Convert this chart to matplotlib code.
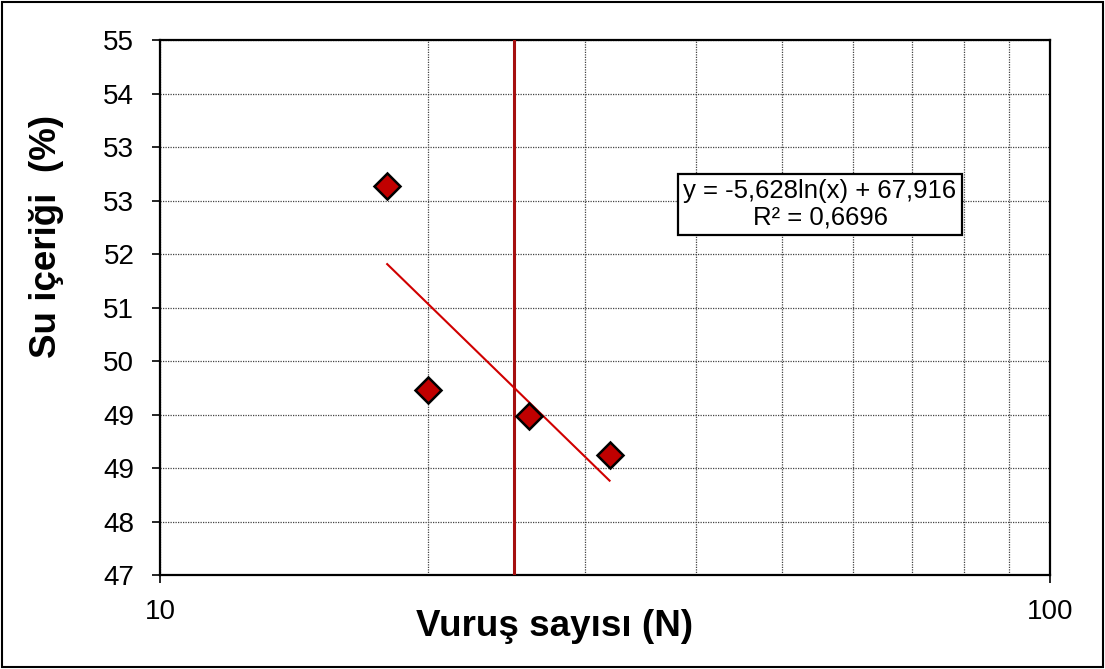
import matplotlib.pyplot as plt
import matplotlib.ticker as ticker
from matplotlib.patches import Rectangle
import numpy as np

plt.rcParams['font.family'] = ['Liberation Sans', 'DejaVu Sans']

# blow counts and water contents
blows = [18, 20, 26, 32]
water = [52.81, 49.77, 49.38, 48.79]

# trendline y = a*ln(x) + b as printed on the chart
coef_a = -5.628
coef_b = 67.916
r2_text = '0,6696'
limit_blows = 25

y_ticks = np.linspace(47, 55, 11)


def setup_axes(ax):
    ax.set_xscale('log')
    ax.set_xlim(10, 100)
    ax.set_ylim(47, 55)
    ax.set_yticks(y_ticks)
    ax.yaxis.set_major_formatter(ticker.FuncFormatter(lambda v, p: '%.0f' % v))
    ax.xaxis.set_major_locator(ticker.FixedLocator([10, 100]))
    ax.xaxis.set_major_formatter(ticker.FuncFormatter(lambda v, p: '%d' % v))
    ax.xaxis.set_minor_locator(ticker.LogLocator(base=10, subs=np.arange(2, 10)))
    ax.xaxis.set_minor_formatter(ticker.NullFormatter())
    ax.tick_params(axis='both', which='major', labelsize=20, direction='out', length=5.5, width=1.2)
    ax.tick_params(axis='y', which='major', pad=13)
    ax.tick_params(axis='x', which='major', pad=12)
    ax.tick_params(axis='x', which='minor', length=0)
    ax.tick_params(top=False, right=False)
    ax.grid(True, which='major', color='#444444', linestyle=(0, (1, 1)), linewidth=0.9)
    ax.grid(True, which='minor', axis='x', color='#444444', linestyle=(0, (1, 1)), linewidth=0.9)
    for s in ax.spines.values():
        s.set_linewidth(1.6)
        s.set_color('black')
    ax.set_xlabel('Vuruş sayısı (N)', fontsize=26.5, fontweight='bold')
    ax.xaxis.set_label_coords(0.443, -0.097)
    ax.xaxis.label.set_verticalalignment('center')
    ax.set_ylabel('Su içeriği  (%)', fontsize=26.5, fontweight='bold')
    ax.yaxis.set_label_coords(-0.127, 0.632)
    ax.yaxis.label.set_verticalalignment('center')


fig = plt.figure(figsize=(11.05, 6.69), dpi=100)
ax = fig.add_axes([0.1448, 0.1405, 0.8054, 0.7997])
setup_axes(ax)

ax.axvline(limit_blows, color='#A50F0F', linewidth=2.2, zorder=3)

xs = np.linspace(min(blows), max(blows), 100)
ax.plot(xs, coef_a * np.log(xs) + coef_b, color='#D00000', linewidth=1.5, zorder=4)

ax.plot(blows, water, linestyle='none', marker='D', markersize=13,
        markerfacecolor='#C00000', markeredgecolor='black', markeredgewidth=1.8, zorder=5)

label = 'y = %sln(x) + %s\nR² = %s' % (
    ('%.3f' % coef_a).replace('.', ','), ('%.3f' % coef_b).replace('.', ','), r2_text)
ax.text(0.7416, 0.693, label, transform=ax.transAxes, ha='center', va='center',
        fontsize=18.5, linespacing=1.15, zorder=6,
        bbox=dict(boxstyle='square,pad=0.2', facecolor='white', edgecolor='black', linewidth=1.6))

fig.patches.append(Rectangle((0.002, 0.003), 0.996, 0.994, transform=fig.transFigure,
                             fill=False, edgecolor='black', linewidth=1.5))

fig.savefig('out.png', dpi=100)
